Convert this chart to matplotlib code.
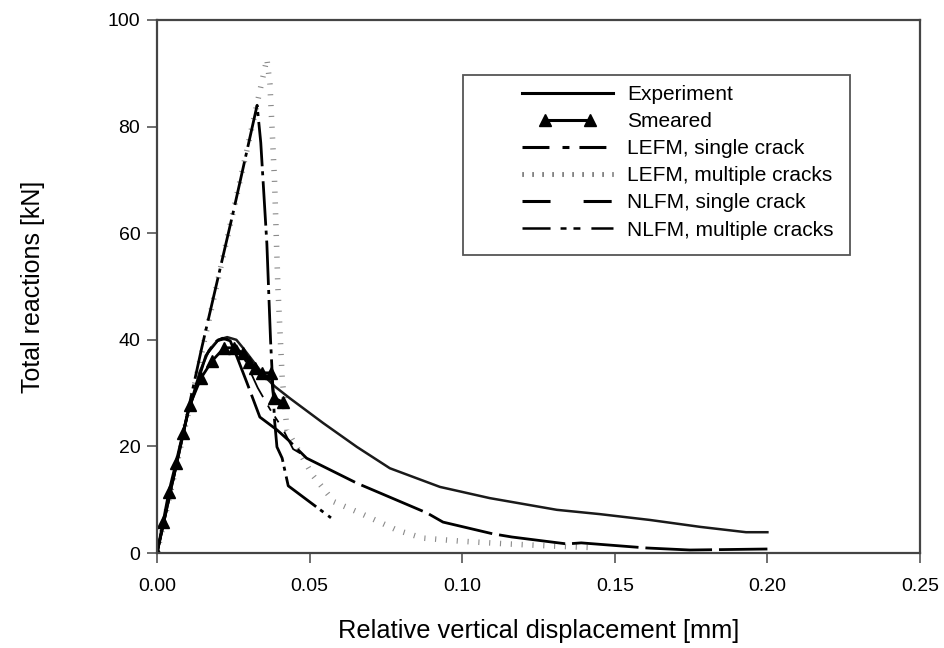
import matplotlib
matplotlib.use("Agg")
import matplotlib.pyplot as plt
from matplotlib.lines import Line2D
from matplotlib.patches import Rectangle
from matplotlib.legend_handler import HandlerLine2D

plt.rcParams['font.family'] = ['Liberation Sans', 'DejaVu Sans']
plt.rcParams['lines.scale_dashes'] = False

# Experiment
exp_x = [0, 0.005, 0.010, 0.014, 0.017, 0.020, 0.023, 0.026, 0.028, 0.032, 0.0355, 0.0387, 0.0436,
         0.0544, 0.0655, 0.0763, 0.0927, 0.109, 0.131, 0.145, 0.1615, 0.178, 0.193, 0.200]
exp_y = [0, 13, 26, 34, 38, 40, 40.5, 40.0, 38.6, 35.6, 33.0, 31.2, 29.0,
         24.4, 19.9, 15.9, 12.4, 10.3, 8.1, 7.3, 6.2, 4.9, 3.9, 3.9]

# Smeared
sm_x = [0, 0.0020, 0.0039, 0.0062, 0.0085, 0.0108, 0.0144, 0.0180, 0.0220, 0.0252, 0.0282,
        0.0300, 0.0320, 0.0344, 0.0373, 0.0383, 0.0413]
sm_y = [0, 5.8, 11.5, 16.9, 22.5, 27.8, 32.8, 36.0, 38.5, 38.5, 37.5,
        35.8, 34.7, 33.8, 33.8, 29.1, 28.3]

# LEFM, single crack
ls_x = [0, 0.0147, 0.0250, 0.0328, 0.0340, 0.0360, 0.0372, 0.0385, 0.0393, 0.0410, 0.0430, 0.0570]
ls_y = [0, 38.6, 64.0, 84.0, 77.0, 58.0, 40.0, 25.0, 19.9, 17.8, 12.6, 6.6]

# LEFM, multiple cracks
lm_x = [0, 0.0150, 0.0300, 0.0360, 0.0370, 0.0385, 0.0396, 0.0410, 0.0426, 0.051, 0.058, 0.0665,
        0.0786, 0.087, 0.100, 0.115, 0.130, 0.1435]
lm_y = [0, 38.5, 77.0, 92.7, 88.0, 70.0, 50.0, 33.0, 23.0, 14.6, 9.6, 7.5,
        4.3, 2.8, 2.2, 1.7, 1.3, 1.0]

# NLFM, single crack
ns_x = [0, 0.010, 0.016, 0.019, 0.0215, 0.0240, 0.0262, 0.0295, 0.0337, 0.0393, 0.043, 0.049,
        0.0655, 0.0885, 0.0937, 0.110, 0.1163, 0.1343, 0.139, 0.1605, 0.1746, 0.200]
ns_y = [0, 26, 37, 39.6, 40.3, 39.8, 36.8, 31.9, 25.5, 23.1, 21.2, 17.8,
        13.1, 7.5, 5.8, 3.6, 3.0, 1.7, 1.9, 0.94, 0.56, 0.75]

# NLFM, multiple cracks
nm_x = [0, 0.010, 0.016, 0.020, 0.023, 0.026, 0.029, 0.033, 0.037, 0.041, 0.0446, 0.049]
nm_y = [0, 26, 37, 39.8, 40.2, 39.0, 36.0, 31.0, 27.0, 23.5, 19.5, 18.0]

labels = ['Experiment', 'Smeared', 'LEFM, single crack', 'LEFM, multiple cracks',
          'NLFM, single crack', 'NLFM, multiple cracks']

x_ticks = [0.00, 0.05, 0.10, 0.15, 0.20, 0.25]
y_ticks = [0, 20, 40, 60, 80, 100]

W, H = 944, 648
fig = plt.figure(figsize=(W / 100, H / 100), dpi=100)
ax = fig.add_axes([157 / W, 1 - 553 / H, (920 - 157) / W, (553 - 20) / H])

ax.plot(lm_x, lm_y, color='#8a8a8a', lw=4, dashes=(0.8, 7), solid_capstyle='butt')
ax.plot(exp_x, exp_y, color='#1a1a1a', lw=1.8)
ax.plot(sm_x, sm_y, color='black', lw=2, marker='^', markersize=9)
ax.plot(ls_x, ls_y, color='black', lw=2, dashes=(32, 3.6, 2.9, 4.3))
ax.plot(ns_x, ns_y, color='black', lw=2, dashes=(48, 5))
ax.plot(nm_x, nm_y, color='black', lw=1.3, dashes=(20, 7, 4.3, 5, 5, 8))

ax.set_xlim(0, 0.25)
ax.set_ylim(0, 100)
ax.set_xticks(x_ticks)
ax.set_xticklabels([f"{v:.2f}" for v in x_ticks])
ax.set_yticks(y_ticks)
ax.tick_params(direction='out', length=7, width=1.2, color='#555555', labelsize=14, pad=5)
ax.tick_params(axis='x', pad=11)
for s in ax.spines.values():
    s.set_color('#444444')
    s.set_linewidth(1.6)

ax.set_xlabel('Relative vertical displacement [mm]', fontsize=18.3, labelpad=17)
ax.set_ylabel('Total reactions [kN]', fontsize=18, labelpad=45)

# legend proxies (legend appearance of the styles)
proxies = [
    Line2D([], [], color='black', lw=2.2),
    Line2D([], [], color='black', lw=2.2, marker='^', markersize=8),
    Line2D([], [], color='black', lw=2.2, dashes=(19.4, 9.4, 5, 7.2)),
    Line2D([], [], color='#333333', lw=3.5, dashes=(0.8, 6.4)),
    Line2D([], [], color='black', lw=2.2, dashes=(20.2, 23.8)),
    Line2D([], [], color='black', lw=1.8, dashes=(20.2, 7.2, 4.3, 5, 5, 7.9)),
]

fig.patches.append(Rectangle((463 / W, 1 - 255 / H), (850 - 463) / W, (255 - 75) / H,
                             transform=fig.transFigure, fill=False, edgecolor='#555555',
                             lw=1.3, figure=fig))
leg = fig.legend(proxies, labels, loc='upper left', bbox_to_anchor=(522 / W, 1 - 85 / H),
                 fontsize=15, frameon=False, borderpad=0, handlelength=4.37,
                 labelspacing=0.39, handletextpad=0.67, borderaxespad=0,
                 handler_map={proxies[1]: HandlerLine2D(marker_pad=1.1, numpoints=2)})

fig.savefig('out.png', dpi=100)
